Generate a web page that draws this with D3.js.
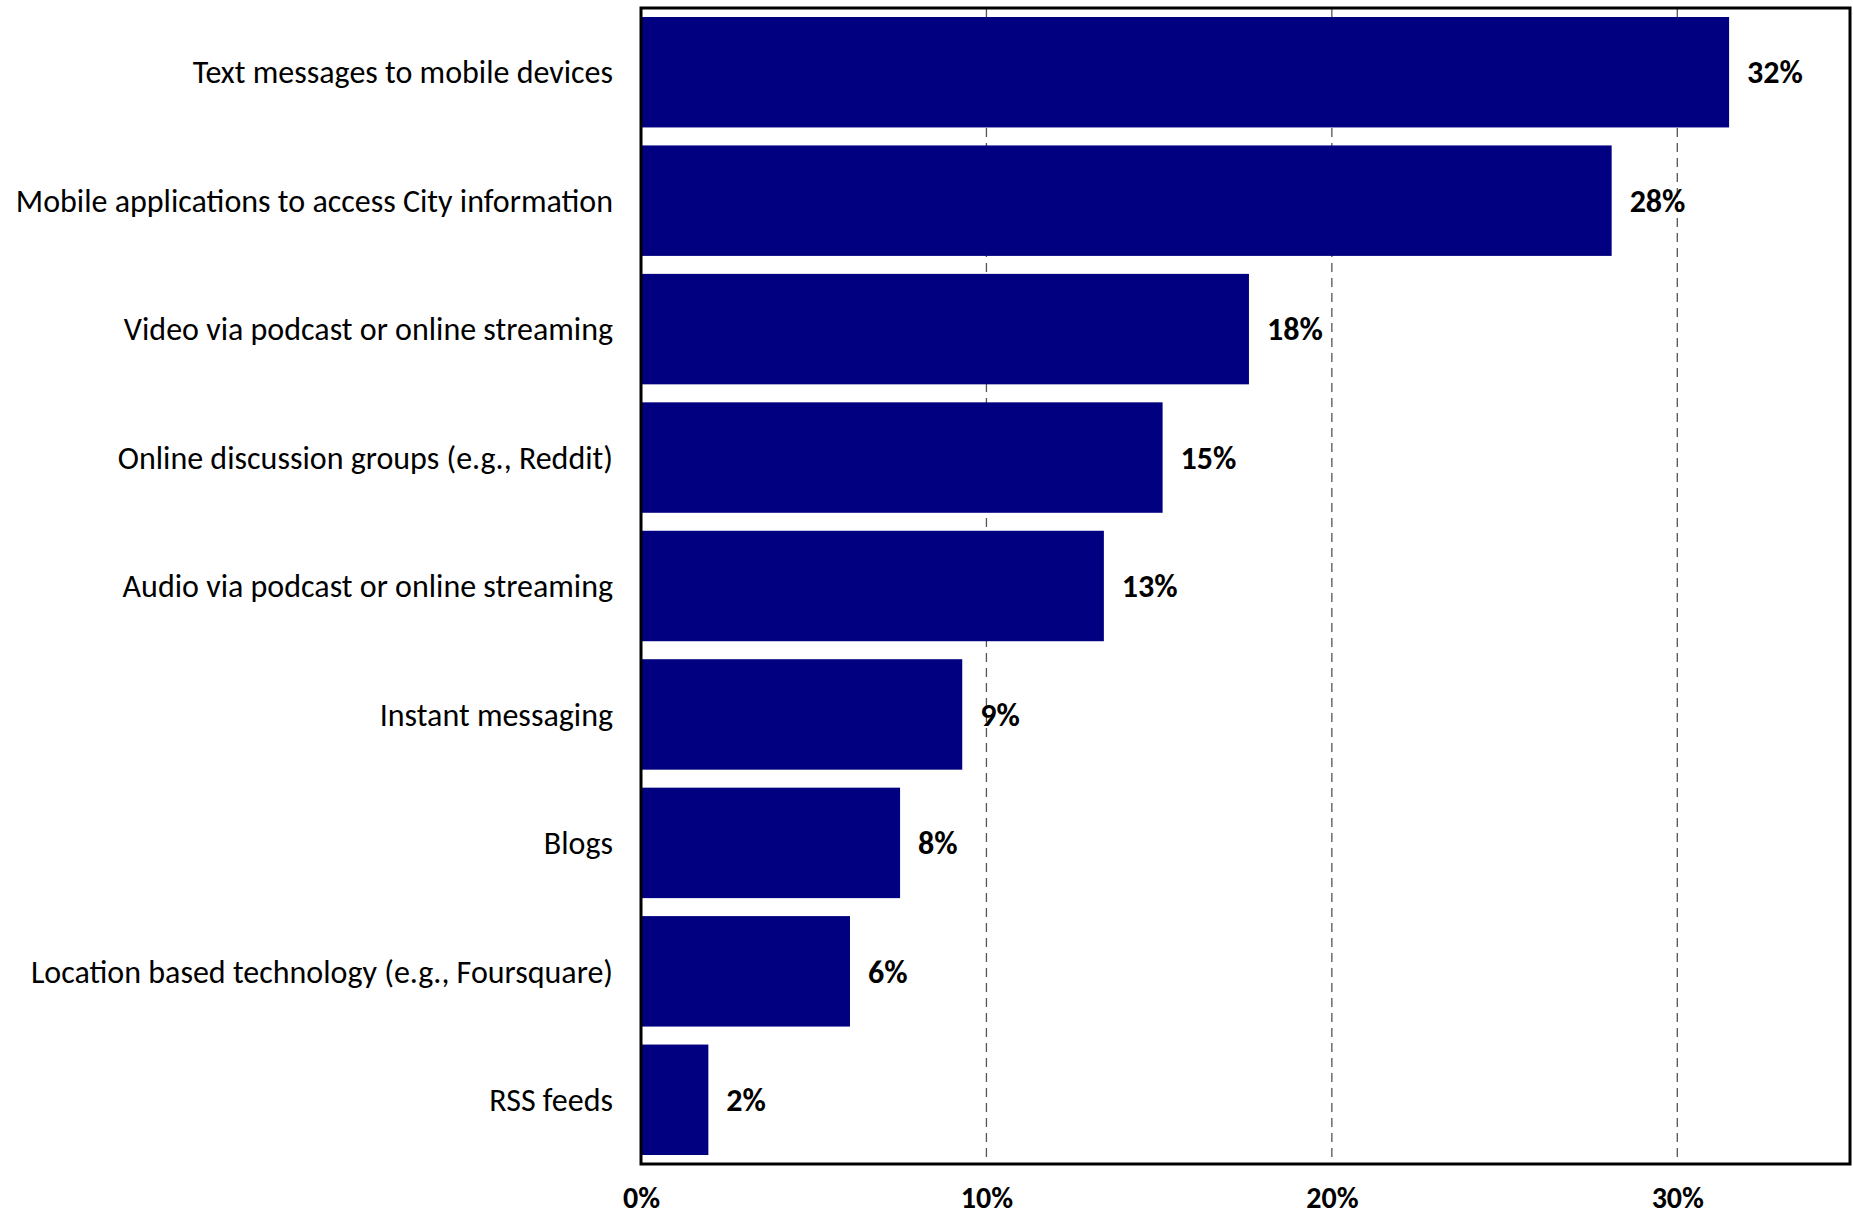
<!DOCTYPE html>
<html><head><meta charset="utf-8">
<script src="https://cdn.jsdelivr.net/npm/d3@7"></script>
<style>body{margin:0;background:#fff}svg{display:block}</style>
</head><body>
<script>
const categories = ["Text messages to mobile devices","Mobile applications to access City information","Video via podcast or online streaming","Online discussion groups (e.g., Reddit)","Audio via podcast or online streaming","Instant messaging","Blogs","Location based technology (e.g., Foursquare)","RSS feeds"];
const values = [31.5, 28.1, 17.6, 15.1, 13.4, 9.3, 7.5, 6.05, 1.95];
const valueLabels = ["32%","28%","18%","15%","13%","9%","8%","6%","2%"];
const ticks = [0, 10, 20, 30];
const tickLabels = ["0%","10%","20%","30%"];

(function () {
const W = 1853, H = 1216;
const pL = 641, pR = 1850, pT = 8, pB = 1164;
const font = "Calibri, Carlito, Lato, 'Open Sans', sans-serif";

const svg = d3.select("body").append("svg").attr("width", W).attr("height", H);
const x = d3.scaleLinear().domain([0, 35]).range([pL, pR]);
const y = d3.scaleBand().domain(categories).range([pT, pB]).paddingInner(0.14).paddingOuter(0.07);

svg.append("g").selectAll("line").data(ticks.filter(t => t > 0)).join("line")
  .attr("x1", d => x(d)).attr("x2", d => x(d)).attr("y1", pT).attr("y2", pB)
  .attr("stroke", "#555").attr("stroke-width", 1.3).attr("stroke-dasharray", "9,6");

svg.append("g").selectAll("rect").data(values).join("rect")
  .attr("x", x(0)).attr("y", (d, i) => y(categories[i]))
  .attr("width", d => x(d) - x(0)).attr("height", y.bandwidth())
  .attr("fill", "#000080");

svg.append("g").selectAll("text").data(values).join("text")
  .attr("x", d => x(d) + 18).attr("y", (d, i) => y(categories[i]) + y.bandwidth() / 2)
  .attr("dy", "0.35em").attr("font-family", font).attr("font-weight", "bold")
  .attr("font-size", 32).attr("fill", "#000").text((d, i) => valueLabels[i]);

svg.append("g").selectAll("text").data(categories).join("text")
  .attr("x", pL - 28).attr("y", d => y(d) + y.bandwidth() / 2)
  .attr("dy", "0.35em").attr("text-anchor", "end").attr("font-family", font)
  .attr("font-size", 32).attr("fill", "#000").text(d => d);

svg.append("rect").attr("x", pL).attr("y", pT).attr("width", pR - pL).attr("height", pB - pT)
  .attr("fill", "none").attr("stroke", "#000").attr("stroke-width", 3);

const xAxis = d3.axisBottom(x).tickValues(ticks).tickFormat((d, i) => tickLabels[i]).tickSize(0);
const gx = svg.append("g").attr("transform", `translate(0,${pB})`).call(xAxis);
gx.select(".domain").remove();
gx.selectAll("text").attr("y", 44).attr("dy", 0)
  .attr("font-family", font).attr("font-weight", "bold").attr("font-size", 30).attr("fill", "#000");
})();
</script>
</body></html>
